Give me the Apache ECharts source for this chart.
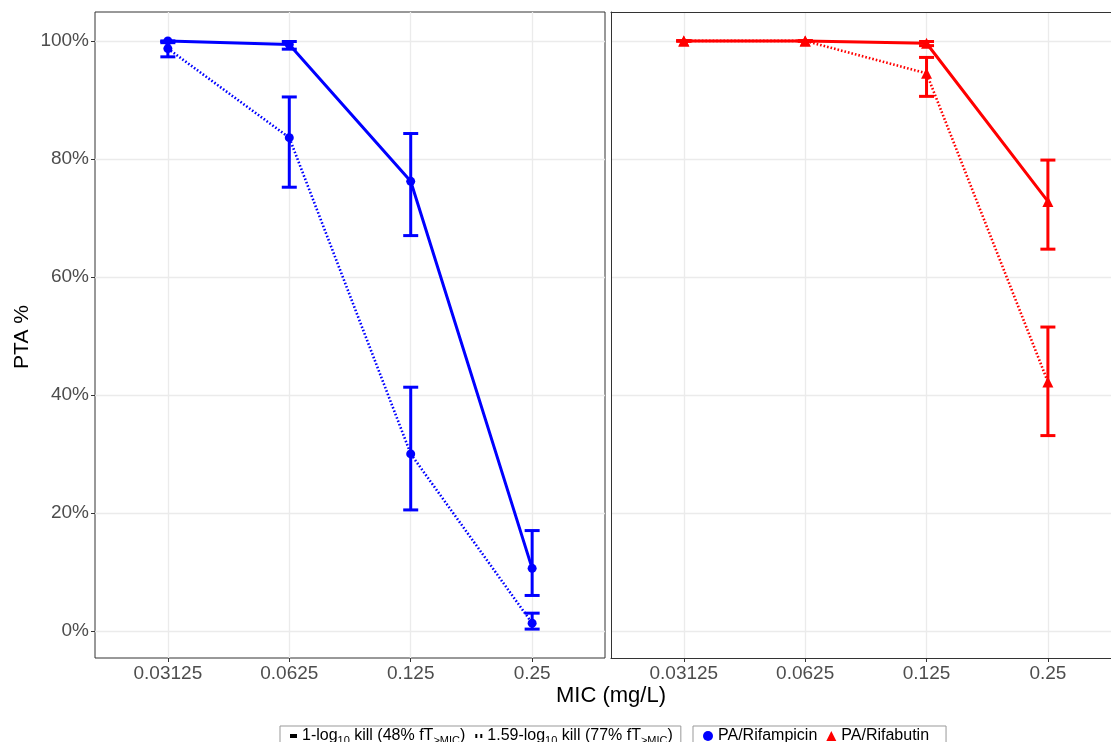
<!DOCTYPE html>
<html>
<head>
<meta charset="utf-8">
<script src="https://cdn.jsdelivr.net/npm/echarts@6/dist/echarts.min.js"></script>
<style>
  html, body { margin: 0; padding: 0; background: #fff; }
  #chart { width: 1111px; height: 742px; }
</style>
</head>
<body>
<div id="chart"></div>
<script>
// MIC categories (mg/L) shown on both panels
const micLabels = ['0.03125', '0.0625', '0.125', '0.25'];
const ptaTicks = [0, 20, 40, 60, 80, 100];

// PA/Rifampicin, 1-log10 kill target (48% fT>MIC)
const rifampicinKill1 = [100, 99.4, 76.2, 10.6];
const rifampicinKill1Lo = [99.7, 98.6, 67.0, 6.0];
const rifampicinKill1Hi = [100, 99.9, 84.3, 17.0];
// PA/Rifampicin, 1.59-log10 kill target (77% fT>MIC)
const rifampicinKill159 = [98.7, 83.6, 30.0, 1.3];
const rifampicinKill159Lo = [97.3, 75.2, 20.5, 0.3];
const rifampicinKill159Hi = [99.9, 90.5, 41.3, 3.0];

// PA/Rifabutin, 1-log10 kill target
const rifabutinKill1 = [100, 100, 99.6, 72.8];
const rifabutinKill1Lo = [100, 100, 99.2, 64.7];
const rifabutinKill1Hi = [100, 100, 99.9, 79.8];
// PA/Rifabutin, 1.59-log10 kill target
const rifabutinKill159 = [100, 100, 94.5, 42.2];
const rifabutinKill159Lo = [100, 100, 90.6, 33.1];
const rifabutinKill159Hi = [100, 100, 97.2, 51.5];

const BLUE = '#0000ff';
const RED = '#ff0000';
const FONT = 'Liberation Sans, Arial, sans-serif';
const FRAME = '#333';
const NAME_KILL1 = 'kill1';
const NAME_KILL159 = 'kill159';
const NAME_RFP = 'PA/Rifampicin';
const NAME_RFB = 'PA/Rifabutin';

const pts = vals => vals.map((v, i) => [i, v]);
const bars = (lo, hi) => lo.map((l, i) => [i, l, hi[i]]);

function errorBar(color) {
  return function (params, api) {
    const x = api.value(0);
    const a = api.coord([x, api.value(1)]);
    const b = api.coord([x, api.value(2)]);
    const hw = 7.5;
    const style = { stroke: color, lineWidth: 3, lineCap: 'butt' };
    return {
      type: 'group',
      children: [
        { type: 'line', shape: { x1: a[0], y1: a[1], x2: b[0], y2: b[1] }, style },
        { type: 'line', shape: { x1: a[0] - hw, y1: a[1], x2: a[0] + hw, y2: a[1] }, style },
        { type: 'line', shape: { x1: b[0] - hw, y1: b[1], x2: b[0] + hw, y2: b[1] }, style }
      ]
    };
  };
}

// Left panel is fully framed; the right panel runs to the page edge,
// so it is framed on three sides by its axis lines.
const grids = [
  { left: 95, top: 12, width: 510, height: 646, show: true, borderColor: FRAME, borderWidth: 1 },
  { left: 611, top: 12, width: 500, height: 646, show: false }
];
const xMax = [3.6, 3.52];

const xAxes = grids.map((g, i) => ({
  type: 'value', gridIndex: i, min: -0.6, max: xMax[i], position: 'bottom',
  axisLine: { show: i === 1, onZero: false, lineStyle: { color: FRAME, width: 1 } },
  axisTick: { show: true, customValues: [0, 1, 2, 3], length: 4, lineStyle: { color: FRAME } },
  axisLabel: {
    customValues: [0, 1, 2, 3], color: '#4d4d4d', fontSize: 19, fontFamily: FONT, margin: 6,
    formatter: v => micLabels[Math.round(v)]
  },
  splitLine: { show: true, lineStyle: { color: '#ebebeb', width: 1.3 } }
}));
// top frame of the right panel
xAxes.push({
  type: 'value', gridIndex: 1, min: -0.6, max: xMax[1], position: 'top',
  axisLine: { show: true, onZero: false, lineStyle: { color: FRAME, width: 1 } },
  axisTick: { show: false }, axisLabel: { show: false }, splitLine: { show: false }
});

const yAxes = grids.map((g, i) => ({
  type: 'value', gridIndex: i, min: -4.6, max: 104.9,
  axisLine: { show: i === 1, onZero: false, lineStyle: { color: FRAME, width: 1 } },
  axisTick: { show: i === 0, customValues: ptaTicks, length: 4, lineStyle: { color: FRAME } },
  axisLabel: {
    show: i === 0, customValues: ptaTicks, color: '#4d4d4d', fontSize: 19, fontFamily: FONT, margin: 6,
    formatter: v => v + '%'
  },
  splitLine: { show: true, lineStyle: { color: '#ebebeb', width: 1.3 } }
}));

function lineSeries(name, idx, data, color, dotted, symbol) {
  return {
    type: 'line', name, xAxisIndex: idx, yAxisIndex: idx, data: pts(data),
    symbol, symbolSize: symbol === 'circle' ? 9 : 11,
    itemStyle: { color },
    lineStyle: dotted ? { color, width: 2.6, type: [1.6, 2] } : { color, width: 3 },
    z: dotted ? 3 : 4, animation: false
  };
}
function barSeries(name, idx, lo, hi, color) {
  return {
    type: 'custom', name, xAxisIndex: idx, yAxisIndex: idx,
    data: bars(lo, hi), renderItem: errorBar(color), z: 2, animation: false,
    itemStyle: { color },
    encode: { x: 0, y: [1, 2] }
  };
}

const series = [
  barSeries(NAME_RFP, 0, rifampicinKill1Lo, rifampicinKill1Hi, BLUE),
  barSeries(NAME_RFP, 0, rifampicinKill159Lo, rifampicinKill159Hi, BLUE),
  lineSeries(NAME_RFP, 0, rifampicinKill1, BLUE, false, 'circle'),
  lineSeries(NAME_RFP, 0, rifampicinKill159, BLUE, true, 'circle'),
  barSeries(NAME_RFB, 1, rifabutinKill1Lo, rifabutinKill1Hi, RED),
  barSeries(NAME_RFB, 1, rifabutinKill159Lo, rifabutinKill159Hi, RED),
  lineSeries(NAME_RFB, 1, rifabutinKill1, RED, false, 'triangle'),
  lineSeries(NAME_RFB, 1, rifabutinKill159, RED, true, 'triangle'),
  // entries for the kill-target legend
  { type: 'line', name: NAME_KILL1, xAxisIndex: 0, yAxisIndex: 0, data: [], itemStyle: { color: '#000' } },
  { type: 'line', name: NAME_KILL159, xAxisIndex: 0, yAxisIndex: 0, data: [], itemStyle: { color: '#000' } }
];

const legendText = {
  color: '#000', fontSize: 16, fontFamily: FONT,
  rich: {
    t: { fontSize: 16, fontFamily: FONT, color: '#000' },
    s: { fontSize: 11, fontFamily: FONT, color: '#000', padding: [9, 0, 0, 0] }
  }
};

const option = {
  backgroundColor: '#fff',
  animation: false,
  grid: grids,
  xAxis: xAxes,
  yAxis: yAxes,
  title: [
    { text: 'MIC (mg/L)', left: 606, top: 680, textAlign: 'center',
      textStyle: { fontSize: 22, fontWeight: 'normal', color: '#000', fontFamily: FONT } }
  ],
  graphic: [
    { type: 'text', x: 22, y: 337, rotation: Math.PI / 2,
      style: { text: 'PTA %', fontSize: 21, fill: '#000', fontFamily: FONT, align: 'center', verticalAlign: 'middle' } }
  ],
  legend: [
    {
      left: 280, top: 726, orient: 'horizontal',
      borderColor: '#999', borderWidth: 1, padding: [2, 8, 8, 10],
      itemGap: 10, itemWidth: 7, itemHeight: 4,
      data: [
        { name: NAME_KILL1, icon: 'rect' },
        { name: NAME_KILL159, icon: 'path://M0,0h2v4h-2z M5,0h2v4h-2z' }
      ],
      formatter: n => n === NAME_KILL1
        ? '{t|1-log}{s|10}{t| kill (48% fT}{s|>MIC}{t|)}'
        : '{t|1.59-log}{s|10}{t| kill (77% fT}{s|>MIC}{t|)}',
      textStyle: legendText
    },
    {
      left: 693, top: 726, orient: 'horizontal',
      borderColor: '#999', borderWidth: 1, padding: [2, 17, 8, 10],
      itemGap: 9, itemWidth: 10, itemHeight: 10,
      data: [
        { name: NAME_RFP, icon: 'circle' },
        { name: NAME_RFB, icon: 'triangle' }
      ],
      textStyle: { color: '#000', fontSize: 16, fontFamily: FONT }
    }
  ],
  series
};

const chart = echarts.init(document.getElementById('chart'), null, { renderer: 'canvas' });
chart.setOption(option);
</script>
</body>
</html>
